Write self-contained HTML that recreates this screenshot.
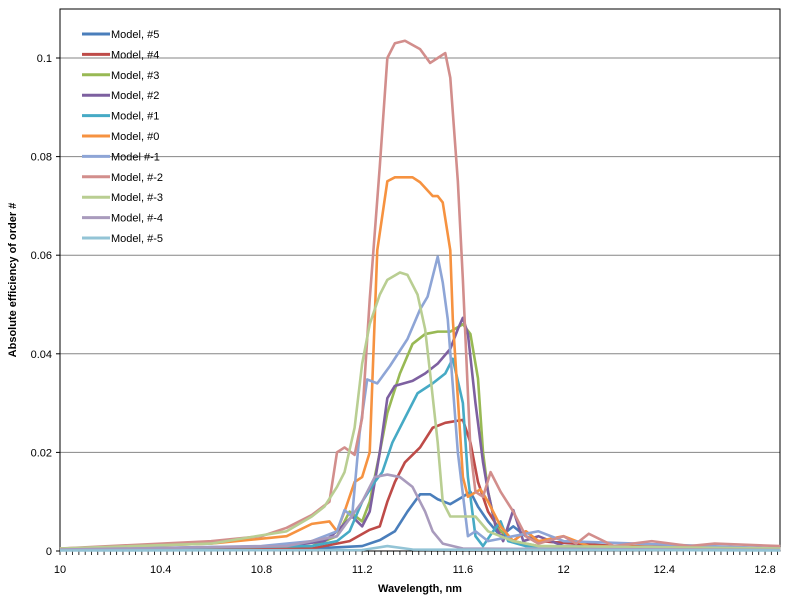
<!DOCTYPE html>
<html><head><meta charset="utf-8"><style>
body{margin:0;background:#fff;font-family:"Liberation Sans",sans-serif}
svg{display:block}
text{font-family:"Liberation Sans",sans-serif;font-size:11px;fill:#000}
</style></head><body>
<svg id="chart" width="800" height="600" viewBox="0 0 800 600"></svg>
<script>
const xTicks=[10,10.4,10.8,11.2,11.6,12,12.4,12.8];
const xTickLabels=["10","10.4","10.8","11.2","11.6","12","12.4","12.8"];
const yTicks=[0,0.02,0.04,0.06,0.08,0.1];
const yTickLabels=["0","0.02","0.04","0.06","0.08","0.1"];
const seriesNames=["Model, #5","Model, #4","Model, #3","Model, #2","Model, #1","Model, #0","Model #-1","Model, #-2","Model, #-3","Model, #-4","Model, #-5"];
const seriesColors=["#4A7EBB","#BE4B48","#98B954","#7D60A0","#46AAC5","#F69240","#8EA5D6","#D28E8C","#B9CE92","#A99BBD","#93C4D6"];
const s5=[[10,0.0003],[11,0.0005],[11.2,0.001],[11.27,0.0022],[11.33,0.004],[11.38,0.008],[11.43,0.0115],[11.47,0.0115],[11.5,0.0105],[11.55,0.0095],[11.6,0.011],[11.63,0.012],[11.66,0.009],[11.7,0.006],[11.75,0.003],[11.8,0.005],[11.85,0.003],[11.9,0.002],[12.2,0.001],[12.86,0.0005]];
const s4=[[10,0.0003],[11,0.0005],[11.15,0.002],[11.23,0.0043],[11.27,0.005],[11.3,0.01],[11.33,0.014],[11.37,0.018],[11.43,0.021],[11.48,0.025],[11.53,0.026],[11.6,0.0266],[11.63,0.022],[11.66,0.014],[11.7,0.008],[11.75,0.004],[11.8,0.002],[11.85,0.004],[11.9,0.002],[12.2,0.001],[12.86,0.0005]];
const s3=[[10,0.0003],[11,0.001],[11.1,0.003],[11.15,0.008],[11.2,0.006],[11.23,0.01],[11.27,0.02],[11.3,0.028],[11.35,0.036],[11.4,0.042],[11.45,0.044],[11.5,0.0445],[11.55,0.0445],[11.6,0.046],[11.63,0.044],[11.66,0.035],[11.68,0.02],[11.7,0.012],[11.73,0.005],[11.8,0.002],[11.9,0.001],[12.86,0.0005]];
const s2=[[10,0.0003],[10.9,0.001],[11.05,0.002],[11.1,0.004],[11.16,0.007],[11.2,0.005],[11.23,0.008],[11.27,0.02],[11.3,0.031],[11.33,0.0335],[11.4,0.0345],[11.45,0.036],[11.5,0.038],[11.55,0.041],[11.58,0.045],[11.6,0.0473],[11.62,0.044],[11.65,0.03],[11.68,0.018],[11.7,0.012],[11.73,0.005],[11.76,0.002],[11.8,0.0083],[11.84,0.002],[11.9,0.003],[12,0.001],[12.86,0.0005]];
const s1=[[10,0.0003],[11,0.001],[11.1,0.002],[11.15,0.004],[11.2,0.01],[11.25,0.014],[11.28,0.016],[11.32,0.022],[11.37,0.027],[11.42,0.032],[11.48,0.034],[11.53,0.036],[11.56,0.039],[11.6,0.03],[11.62,0.015],[11.65,0.003],[11.68,0.001],[11.72,0.004],[11.75,0.006],[11.78,0.002],[11.85,0.001],[12.86,0.0003]];
const s0=[[10,0.0005],[10.6,0.0015],[10.9,0.003],[11,0.0055],[11.07,0.006],[11.1,0.004],[11.13,0.008],[11.17,0.014],[11.2,0.015],[11.23,0.02],[11.26,0.061],[11.3,0.075],[11.33,0.0758],[11.4,0.0758],[11.43,0.0748],[11.48,0.072],[11.5,0.072],[11.52,0.0707],[11.55,0.061],[11.56,0.047],[11.6,0.015],[11.62,0.011],[11.67,0.0125],[11.7,0.01],[11.75,0.005],[11.8,0.002],[11.85,0.004],[11.9,0.002],[12,0.003],[12.05,0.002],[12.1,0.001],[12.86,0.0005]];
const sm1=[[10,0.0003],[10.8,0.001],[11,0.002],[11.1,0.004],[11.13,0.0083],[11.16,0.007],[11.19,0.024],[11.22,0.0348],[11.26,0.034],[11.31,0.0375],[11.38,0.043],[11.43,0.049],[11.46,0.0516],[11.5,0.0597],[11.52,0.0545],[11.54,0.047],[11.58,0.02],[11.62,0.003],[11.65,0.004],[11.7,0.002],[11.8,0.003],[11.9,0.004],[12,0.002],[12.86,0.0005]];
const sm2=[[10,0.0005],[10.6,0.002],[10.8,0.003],[10.9,0.0047],[11,0.0073],[11.07,0.01],[11.1,0.02],[11.13,0.021],[11.17,0.0195],[11.2,0.027],[11.23,0.051],[11.27,0.078],[11.3,0.1],[11.33,0.103],[11.37,0.1035],[11.43,0.1018],[11.47,0.099],[11.5,0.1],[11.53,0.101],[11.55,0.096],[11.58,0.075],[11.6,0.055],[11.63,0.0205],[11.65,0.012],[11.68,0.011],[11.71,0.016],[11.75,0.012],[11.8,0.008],[11.85,0.003],[11.9,0.0015],[12,0.003],[12.05,0.0015],[12.1,0.0035],[12.2,0.001],[12.35,0.002],[12.5,0.001],[12.6,0.0015],[12.86,0.001]];
const sm3=[[10,0.0005],[10.6,0.0015],[10.9,0.004],[11,0.007],[11.05,0.009],[11.1,0.013],[11.13,0.016],[11.17,0.025],[11.2,0.038],[11.23,0.046],[11.27,0.052],[11.3,0.055],[11.35,0.0565],[11.38,0.056],[11.42,0.052],[11.45,0.045],[11.47,0.036],[11.5,0.022],[11.52,0.01],[11.55,0.007],[11.6,0.007],[11.65,0.007],[11.7,0.004],[11.8,0.002],[11.9,0.001],[12.86,0.0005]];
const sm4=[[10,0.0003],[10.9,0.001],[11.1,0.003],[11.2,0.01],[11.25,0.015],[11.3,0.0155],[11.35,0.015],[11.4,0.013],[11.45,0.008],[11.48,0.004],[11.52,0.0015],[11.6,0.0005],[12.86,0.0002]];
const sm5=[[10,0.0001],[11.2,0.0002],[11.3,0.001],[11.4,0.0003],[12.86,0.0001]];
const seriesData=[s5,s4,s3,s2,s1,s0,sm1,sm2,sm3,sm4,sm5];

const L=60,R=780,T=9,B=551;
const xScale=w=>L+(w-10)*251.8;
const yScale=v=>B-v*4930;
const svg=document.getElementById('chart');
const NS='http://www.w3.org/2000/svg';
function mk(tag,attrs,parent){const e=document.createElementNS(NS,tag);for(const k in attrs)e.setAttribute(k,attrs[k]);(parent||svg).appendChild(e);return e;}

yTicks.forEach((v,i)=>{
  if(v>0){const g=mk('line',{x1:L,x2:R,y1:yScale(v),y2:yScale(v),stroke:'#868686','stroke-width':1});
  
  }
  const tk=mk('line',{x1:L-4,x2:L,y1:yScale(v),y2:yScale(v),stroke:'#000'});
  
  
  const t=mk('text',{x:L-8,y:yScale(v)+4,'text-anchor':'end'});t.textContent=yTickLabels[i];
  
  
});
const box=mk('rect',{x:L,y:T,width:R-L,height:B-T,fill:'none',stroke:'#000','stroke-width':1});


for(let w=10;w<=12.86;w+=0.025){const tk=mk('line',{x1:xScale(w),x2:xScale(w),y1:B,y2:B+4,stroke:'#000','stroke-width':0.8});

}
xTicks.forEach((w,i)=>{const t=mk('text',{x:xScale(w),y:B+22,'text-anchor':'middle'});t.textContent=xTickLabels[i];

});

seriesData.forEach((d,i)=>{
  const p=mk('polyline',{points:d.map(q=>xScale(q[0])+','+yScale(q[1])).join(' '),fill:'none',stroke:seriesColors[i],'stroke-width':2.6,'stroke-linejoin':'round'});
  
  
});
const xt=mk('text',{x:420,y:592,'text-anchor':'middle','font-weight':'bold'});xt.textContent='Wavelength, nm';


const yt=mk('text',{x:0,y:0,'text-anchor':'middle','font-weight':'bold',transform:'translate(16,280) rotate(-90)'});yt.textContent='Absolute efficiency of order #';


const lg=mk('g',{});


seriesNames.forEach((n,i)=>{
  const y=34+i*20.4;
  const g=mk('g',{},lg);
  
  
  mk('line',{x1:82,x2:110,y1:y,y2:y,stroke:seriesColors[i],'stroke-width':3},g);
  const t=mk('text',{x:111,y:y+4},g);t.textContent=n;
});
</script>
</body></html>
